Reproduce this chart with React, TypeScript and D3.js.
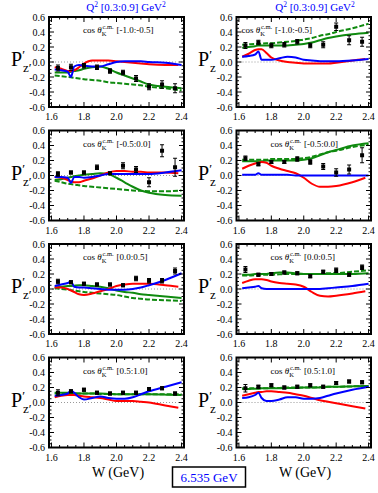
import React from "react";
import * as d3 from "d3";

const W_POINTS = [1.64, 1.72, 1.8, 1.88, 1.96, 2.04, 2.12, 2.2, 2.28, 2.36];
const CURVE_W = [1.62, 1.66, 1.7, 1.72, 1.74, 1.77, 1.8, 1.85, 1.9, 1.95, 2.0, 2.05, 2.1, 2.15, 2.2, 2.3, 2.4];
const RED_W = [1.62, 1.66, 1.7, 1.72, 1.74, 1.77, 1.8, 1.85, 1.9, 1.95, 2.0, 2.05, 2.1, 2.15, 2.2, 2.3, 2.38];
const COS_BINS = ["[-1.0:-0.5]", "[-0.5:0.0]", "[0.0:0.5]", "[0.5:1.0]"];
const Y_TICKS = [0.6, 0.4, 0.2, 0.0, -0.2, -0.4, -0.6];
const X_TICKS = [1.6, 1.8, 2.0, 2.2, 2.4];

// Left column: P'z'  (rows = cos bins)
const L_VAL = [
  [-0.08, -0.07, -0.05, -0.07, -0.12, -0.14, -0.22, -0.33, -0.3, -0.35],
  [0.02, 0.04, 0.04, 0.11, 0.03, 0.13, 0.08, -0.09, 0.33, 0.11],
  [0.1, 0.09, 0.07, 0.06, 0.06, 0.05, 0.14, 0.11, 0.11, 0.24],
  [0.13, 0.15, 0.17, 0.13, 0.12, 0.13, 0.13, 0.18, 0.19, 0.12],
];
const L_ERR = [
  [0.04, 0.04, 0.03, 0.03, 0.03, 0.03, 0.04, 0.04, 0.05, 0.06],
  [0.03, 0.02, 0.02, 0.03, 0.02, 0.04, 0.04, 0.06, 0.08, 0.12],
  [0.03, 0.02, 0.02, 0.02, 0.02, 0.02, 0.03, 0.03, 0.03, 0.04],
  [0.04, 0.02, 0.02, 0.02, 0.02, 0.02, 0.02, 0.02, 0.02, 0.02],
];
// Right column: P'z
const R_VAL = [
  [0.22, 0.26, 0.22, 0.23, 0.27, 0.22, 0.23, 0.47, 0.29, 0.27],
  [0.23, 0.15, 0.18, 0.18, 0.22, 0.18, 0.12, 0.04, 0.08, 0.27],
  [0.26, 0.19, 0.2, 0.22, 0.21, 0.17, 0.23, 0.25, 0.19, 0.29],
  [0.19, 0.21, 0.23, 0.2, 0.21, 0.23, 0.21, 0.26, 0.28, 0.27],
];
const R_ERR = [
  [0.04, 0.03, 0.03, 0.03, 0.03, 0.03, 0.04, 0.05, 0.06, 0.06],
  [0.03, 0.02, 0.02, 0.02, 0.03, 0.03, 0.04, 0.05, 0.06, 0.1],
  [0.04, 0.02, 0.02, 0.02, 0.02, 0.02, 0.02, 0.03, 0.02, 0.03],
  [0.05, 0.02, 0.02, 0.02, 0.02, 0.02, 0.02, 0.02, 0.02, 0.02],
];

const L_RED = [
  [-0.07, -0.09, -0.12, -0.12, -0.11, -0.07, -0.02, 0.02, 0.02, 0.02, 0.01, 0.0, -0.01, -0.02, -0.03, -0.04, -0.04],
  [-0.02, -0.03, -0.06, -0.08, -0.09, -0.09, -0.07, -0.04, 0.0, 0.04, 0.06, 0.06, 0.05, 0.05, 0.04, 0.04, 0.03],
  [0.02, 0.02, 0.0, -0.02, -0.04, -0.07, -0.08, -0.06, -0.03, 0.0, 0.04, 0.06, 0.07, 0.07, 0.07, 0.05, 0.03],
  [0.07, 0.09, 0.1, 0.1, 0.1, 0.09, 0.08, 0.07, 0.06, 0.04, 0.02, 0.02, 0.02, 0.01, 0.0, -0.04, -0.07],
];
const L_BLUE = [
  [-0.1, -0.11, -0.13, -0.2, -0.06, -0.04, -0.05, -0.06, -0.06, -0.03, 0.0, 0.01, 0.01, 0.01, 0.0, -0.01, -0.04],
  [-0.02, -0.02, -0.03, -0.1, -0.02, -0.02, -0.03, -0.02, 0.0, 0.02, 0.02, 0.02, 0.02, 0.02, 0.02, 0.04, 0.07],
  [0.04, 0.06, 0.08, 0.1, 0.03, 0.02, 0.02, 0.01, 0.0, -0.01, -0.01, -0.01, 0.0, 0.02, 0.05, 0.12, 0.21],
  [0.09, 0.1, 0.12, 0.16, 0.13, 0.07, 0.04, 0.06, 0.08, 0.06, 0.05, 0.05, 0.07, 0.11, 0.15, 0.21, 0.27],
];
const L_GREEN = [
  [-0.14, -0.14, -0.14, -0.13, -0.12, -0.11, -0.09, -0.07, -0.06, -0.09, -0.14, -0.18, -0.22, -0.26, -0.3, -0.33, -0.35],
  [-0.06, -0.05, -0.03, -0.02, -0.01, 0.0, 0.01, 0.02, 0.03, 0.02, -0.03, -0.09, -0.15, -0.2, -0.23, -0.26, -0.27],
  [0.02, 0.03, 0.04, 0.04, 0.045, 0.05, 0.05, 0.04, 0.03, 0.01, -0.02, -0.04, -0.05, -0.07, -0.08, -0.1, -0.12],
  [0.13, 0.13, 0.13, 0.13, 0.125, 0.12, 0.12, 0.12, 0.12, 0.115, 0.11, 0.11, 0.11, 0.11, 0.11, 0.105, 0.1],
];
const L_DASH = [
  [-0.18, -0.19, -0.2, -0.205, -0.21, -0.22, -0.23, -0.24, -0.25, -0.27, -0.28, -0.29, -0.3, -0.31, -0.33, -0.35, -0.38],
  [-0.07, -0.09, -0.11, -0.115, -0.12, -0.13, -0.14, -0.15, -0.16, -0.17, -0.18, -0.19, -0.2, -0.205, -0.21, -0.21, -0.2],
  [0.01, 0.0, -0.01, -0.015, -0.02, -0.03, -0.04, -0.05, -0.06, -0.07, -0.08, -0.1, -0.12, -0.13, -0.14, -0.15, -0.16],
  [0.12, 0.12, 0.12, 0.12, 0.12, 0.12, 0.12, 0.12, 0.115, 0.115, 0.11, 0.11, 0.11, 0.11, 0.11, 0.11, 0.11],
];
const R_RED = [
  [0.07, 0.11, 0.16, 0.17, 0.17, 0.12, 0.06, 0.02, 0.0, -0.01, -0.02, -0.02, -0.02, -0.02, -0.01, 0.02, 0.04],
  [0.09, 0.13, 0.16, 0.17, 0.18, 0.17, 0.13, 0.09, 0.06, 0.03, -0.03, -0.11, -0.15, -0.15, -0.14, -0.09, -0.03],
  [0.08, 0.11, 0.13, 0.13, 0.13, 0.12, 0.1, 0.08, 0.07, 0.06, 0.03, -0.04, -0.09, -0.1, -0.09, -0.06, -0.03],
  [0.09, 0.11, 0.13, 0.14, 0.14, 0.15, 0.15, 0.14, 0.13, 0.11, 0.09, 0.06, 0.03, 0.01, -0.01, -0.05, -0.08],
];
const R_BLUE = [
  [0.07, 0.08, 0.1, 0.14, 0.03, 0.03, 0.03, 0.05, 0.07, 0.06, 0.03, 0.02, 0.01, 0.01, 0.01, 0.02, 0.04],
  [0.01, 0.01, 0.01, 0.03, 0.01, 0.01, 0.01, 0.01, 0.01, 0.0, 0.0, 0.0, 0.0, 0.0, 0.0, 0.0, 0.0],
  [0.01, 0.02, 0.03, 0.04, 0.01, 0.0, 0.0, 0.0, 0.0, 0.0, 0.0, 0.0, 0.0, 0.01, 0.02, 0.04, 0.07],
  [0.06, 0.07, 0.1, 0.13, 0.06, 0.02, 0.02, 0.04, 0.07, 0.07, 0.05, 0.05, 0.06, 0.09, 0.12, 0.17, 0.21],
];
const R_GREEN = [
  [0.19, 0.2, 0.21, 0.22, 0.22, 0.22, 0.22, 0.22, 0.22, 0.23, 0.24, 0.26, 0.29, 0.32, 0.34, 0.37, 0.39],
  [0.19, 0.19, 0.19, 0.19, 0.19, 0.2, 0.2, 0.2, 0.2, 0.2, 0.21, 0.23, 0.27, 0.31, 0.34, 0.4, 0.43],
  [0.19, 0.19, 0.2, 0.2, 0.2, 0.2, 0.21, 0.22, 0.22, 0.21, 0.2, 0.2, 0.2, 0.2, 0.2, 0.2, 0.21],
  [0.18, 0.18, 0.185, 0.185, 0.19, 0.19, 0.19, 0.19, 0.195, 0.195, 0.2, 0.2, 0.2, 0.21, 0.21, 0.215, 0.22],
];
const R_DASH = [
  [0.23, 0.235, 0.24, 0.24, 0.245, 0.25, 0.25, 0.26, 0.27, 0.28, 0.3, 0.32, 0.35, 0.37, 0.4, 0.45, 0.51],
  [0.21, 0.21, 0.21, 0.21, 0.21, 0.21, 0.22, 0.22, 0.22, 0.22, 0.23, 0.25, 0.28, 0.31, 0.33, 0.38, 0.41],
  [0.18, 0.18, 0.185, 0.19, 0.19, 0.19, 0.19, 0.195, 0.2, 0.2, 0.2, 0.2, 0.2, 0.21, 0.21, 0.23, 0.25],
  [0.19, 0.19, 0.19, 0.19, 0.19, 0.19, 0.195, 0.195, 0.2, 0.2, 0.2, 0.2, 0.205, 0.21, 0.21, 0.215, 0.22],
];

const SERIF = "'Liberation Serif', 'DejaVu Serif', serif";
const BLUE = "#0000ff";
const RED = "#ff0000";
const GREEN = "#0f8a0f";

const XMIN = 1.585;
const XMAX = 2.415;
const COLS = [
  { x0: 49, x1: 184, prime: true, val: L_VAL, err: L_ERR, red: L_RED, blue: L_BLUE, green: L_GREEN, dash: L_DASH, titleX: 126, yLabX: 11, wX: 118 },
  { x0: 236.5, x1: 371, prime: false, val: R_VAL, err: R_ERR, red: R_RED, blue: R_BLUE, green: R_GREEN, dash: R_DASH, titleX: 315, yLabX: 198, wX: 305 },
];
const ROW_TOP = 17;
const ROW_PITCH = 113.5;
const PANEL_H = 90;

function range(a: number, b: number, s: number) {
  const out: number[] = [];
  for (let v = a; v <= b + 1e-9; v += s) out.push(Math.round(v * 1000) / 1000);
  return out;
}

function Panel({ col, row }: { col: number; row: number }) {
  const c = COLS[col];
  const top = ROW_TOP + row * ROW_PITCH;
  const bottom = top + PANEL_H;
  const x = d3.scaleLinear().domain([XMIN, XMAX]).range([c.x0, c.x1]);
  const y = d3.scaleLinear().domain([-0.6, 0.6]).range([bottom, top]);
  const line = d3
    .line<[number, number]>()
    .x((d) => x(d[0]))
    .y((d) => y(d[1]))
    .curve(d3.curveMonotoneX);
  const mk = (ws: number[], vs: number[]) => line(ws.map((w, i) => [w, vs[i]] as [number, number])) || "";

  const yMinor = range(-0.6, 0.6, 0.05);
  const xMinor = range(1.6, 2.4, 0.05);
  const isMajor = (v: number, step: number, base: number) => Math.abs(Math.round((v - base) / step) * step - (v - base)) < 1e-6;

  const labelX = col === 1 && row === 0 ? c.x0 + 5 : c.x0 + 34;

  return (
    <g>
      <line x1={c.x0} x2={c.x1} y1={y(0)} y2={y(0)} stroke="#999" strokeWidth={1} strokeDasharray="1,2" />
      {/* curves */}
      <path d={mk(CURVE_W, c.dash[row])} fill="none" stroke={GREEN} strokeWidth={2} strokeDasharray="5,2" />
      <path d={mk(CURVE_W, c.green[row])} fill="none" stroke={GREEN} strokeWidth={2} />
      <path d={mk(RED_W, c.red[row])} fill="none" stroke={RED} strokeWidth={2} />
      <path d={mk(CURVE_W, c.blue[row])} fill="none" stroke={BLUE} strokeWidth={2} />
      {/* data */}
      {W_POINTS.map((w, i) => {
        const v = c.val[row][i];
        const e = c.err[row][i];
        const px = x(w);
        return (
          <g key={i}>
            <line x1={px} x2={px} y1={y(v - e)} y2={y(v + e)} stroke="#000" strokeWidth={1} />
            <line x1={px - 2} x2={px + 2} y1={y(v - e)} y2={y(v - e)} stroke="#000" strokeWidth={1} />
            <line x1={px - 2} x2={px + 2} y1={y(v + e)} y2={y(v + e)} stroke="#000" strokeWidth={1} />
            <rect x={px - 2} y={y(v) - 2} width={4} height={4} fill="#000" />
          </g>
        );
      })}
      {/* ticks */}
      {yMinor.map((v, i) => {
        const L = isMajor(v, 0.2, -0.6) ? 5 : 2.5;
        return (
          <g key={"yt" + i}>
            <line x1={c.x0} x2={c.x0 + L} y1={y(v)} y2={y(v)} stroke="#000" strokeWidth={1} />
            <line x1={c.x1} x2={c.x1 - L} y1={y(v)} y2={y(v)} stroke="#000" strokeWidth={1} />
          </g>
        );
      })}
      {xMinor.map((v, i) => {
        const L = isMajor(v, 0.2, 1.6) ? 5 : 2.5;
        return (
          <g key={"xt" + i}>
            <line x1={x(v)} x2={x(v)} y1={bottom} y2={bottom - L} stroke="#000" strokeWidth={1} />
            <line x1={x(v)} x2={x(v)} y1={top} y2={top + L} stroke="#000" strokeWidth={1} />
          </g>
        );
      })}
      <rect x={c.x0} y={top} width={c.x1 - c.x0} height={PANEL_H} fill="none" stroke="#000" strokeWidth={2} />
      {/* tick labels */}
      {Y_TICKS.map((v, i) => (
        <text key={"yl" + i} x={c.x0 - 4} y={y(v) + 3.5} textAnchor="end" fontSize={10} fontFamily={SERIF} fill="#000">
          {v.toFixed(1)}
        </text>
      ))}
      {X_TICKS.map((v, i) => (
        <text key={"xl" + i} x={x(v)} y={bottom + 13} textAnchor="middle" fontSize={10} fontFamily={SERIF} fill="#000">
          {v.toFixed(1)}
        </text>
      ))}
      {/* cos label */}
      <text x={labelX} y={top + 16} fontSize={9} fontFamily={SERIF} fill="#000">
        cos <tspan fontStyle="italic">θ</tspan>
        <tspan fontSize={6.5} dy={3}>K</tspan>
        <tspan fontSize={6.5} dx={-4} dy={-7}>c.m.</tspan>
        <tspan dy={4} dx={3}>{COS_BINS[row]}</tspan>
      </text>
      {/* y axis label */}
      <text x={c.yLabX} y={(top + bottom) / 2 + 4} fontSize={20} fontFamily={SERIF} fill="#000">
        P<tspan fontSize={13} dy={-7}>′</tspan>
        <tspan fontSize={13} dy={13} dx={-2}>{c.prime ? "z′" : "z"}</tspan>
      </text>
    </g>
  );
}

export default function App() {
  const rows = [0, 1, 2, 3];
  return (
    <svg width={378} height={493} style={{ position: "absolute", left: 0, top: 0, background: "#fff" }}>
      <rect x={0} y={0} width={378} height={493} fill="#fff" />
      {COLS.map((c, ci) => (
        <text key={"t" + ci} x={c.titleX} y={11} textAnchor="middle" fontSize={11} fontFamily={SERIF} fill={BLUE}>
          Q<tspan fontSize={7.5} dy={-4}>2</tspan>
          <tspan dy={4}> [0.3:0.9] GeV</tspan>
          <tspan fontSize={7.5} dy={-4}>2</tspan>
        </text>
      ))}
      {COLS.map((c, ci) => rows.map((r) => <Panel key={ci + "-" + r} col={ci} row={r} />))}
      {COLS.map((c, ci) => (
        <text key={"w" + ci} x={c.wX} y={477} textAnchor="middle" fontSize={14} fontFamily={SERIF} fill="#000">
          W (GeV)
        </text>
      ))}
      <rect x={172.5} y={467} width={73} height={20} fill="none" stroke="#000" strokeWidth={1.5} />
      <text x={209} y={482} textAnchor="middle" fontSize={13} fontFamily={SERIF} fill={BLUE}>
        6.535 GeV
      </text>
    </svg>
  );
}
